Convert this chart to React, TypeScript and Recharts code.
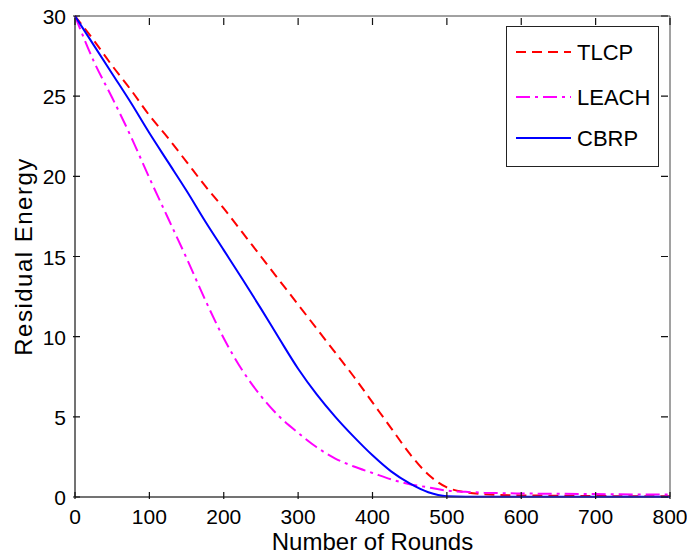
import { LineChart, Line, XAxis, YAxis, Legend, ReferenceArea } from 'recharts'

const rounds = [0, 25, 50, 75, 100, 125, 150, 175, 200, 225, 250, 275, 300, 325, 350, 375, 400, 425, 450, 475, 500, 525, 550, 600, 650, 700, 750, 800]
const tlcp = [30, 28.5, 26.9, 25.4, 23.8, 22.4, 20.9, 19.4, 18.0, 16.5, 15.0, 13.5, 12.0, 10.5, 9.0, 7.5, 5.9, 4.3, 2.7, 1.4, 0.6, 0.3, 0.18, 0.1, 0.08, 0.06, 0.05, 0.05]
const leach = [30, 27.2, 24.9, 22.5, 19.9, 17.4, 14.9, 12.3, 9.9, 7.9, 6.3, 5.0, 4.0, 3.1, 2.4, 1.9, 1.5, 1.1, 0.8, 0.6, 0.4, 0.32, 0.27, 0.22, 0.2, 0.18, 0.16, 0.15]
const cbrp = [30, 28.2, 26.4, 24.6, 22.7, 20.9, 19.1, 17.2, 15.4, 13.6, 11.75, 9.85, 8.0, 6.4, 5.0, 3.75, 2.6, 1.6, 0.85, 0.3, 0.05, 0.02, 0.02, 0.02, 0.02, 0.02, 0.02, 0.02]

const xTicks = [0, 100, 200, 300, 400, 500, 600, 700, 800]
const yTicks = [0, 5, 10, 15, 20, 25, 30]

const series = [
  { key: 'TLCP', color: '#ff0000', dash: '10 6' },
  { key: 'LEACH', color: '#ff00ff', dash: '14 5 3 5' },
  { key: 'CBRP', color: '#0000ff', dash: undefined },
]

const data = rounds.map((r, i) => ({ r, TLCP: tlcp[i], LEACH: leach[i], CBRP: cbrp[i] }))

const font = '"Liberation Sans", Arial, sans-serif'
const axisColor = '#444'
const tickColor = '#111'
const tickLen = 7
const plotH = 481
const plotW = 595

// inward tick marks on both sides of the box (MATLAB style)
const BottomTick = ({ x, y, payload }: any) => (
  <g>
    <path d={`M${x},${y}v${-tickLen}M${x},${y - plotH}v${tickLen}`} stroke={tickColor} strokeWidth={1.2} fill="none" />
    <text x={x} y={y + 25} textAnchor="middle" fontSize={21} fontFamily={font} fill="#000">{payload.value}</text>
  </g>
)

const LeftTick = ({ x, y, payload }: any) => (
  <g>
    <path d={`M${x},${y}h${tickLen}M${x + plotW},${y}h${-tickLen}`} stroke={tickColor} strokeWidth={1.2} fill="none" />
    <text x={x - 7} y={y + 8} textAnchor="end" fontSize={21} fontFamily={font} fill="#000">{payload.value}</text>
  </g>
)

function LegendBox() {
  return (
    <svg width={151} height={139} style={{ display: 'block' }}>
      {series.map((s, i) => {
        const cy = [25, 70, 111][i]
        return (
          <g key={s.key}>
            <line x1={9} y1={cy} x2={64} y2={cy} stroke={s.color} strokeWidth={2} strokeDasharray={s.dash} />
            <text x={70} y={cy + 8} fontSize={22} fontFamily={font} fill="#000">{s.key}</text>
          </g>
        )
      })}
    </svg>
  )
}

export default function App() {
  return (
    <div style={{ position: 'absolute', left: 0, top: 0 }}>
      <LineChart width={687} height={558} data={data} margin={{ top: 16, right: 17, left: 0, bottom: 0 }}>
        <ReferenceArea x1={0} x2={800} y1={0} y2={30} fill="none" stroke={axisColor} strokeWidth={1} />
        <XAxis
          dataKey="r" type="number" domain={[0, 800]} ticks={xTicks}
          height={61} tickSize={0} tickLine={false}
          axisLine={{ stroke: axisColor }} tick={<BottomTick />}
          label={({ viewBox }: any) => (
            <text x={viewBox.x + viewBox.width / 2} y={viewBox.y + 53} textAnchor="middle" fontSize={24} fontFamily={font} fill="#000">
              Number of Rounds
            </text>
          )}
        />
        <YAxis
          type="number" domain={[0, 30]} ticks={yTicks}
          width={75} tickSize={0} tickLine={false}
          axisLine={{ stroke: axisColor }} tick={<LeftTick />}
          label={({ viewBox }: any) => {
            const cx = 32
            const cy = viewBox.y + viewBox.height / 2
            return (
              <text x={cx} y={cy} transform={`rotate(-90, ${cx}, ${cy})`} textAnchor="middle" fontSize={24} letterSpacing={1.5} fontFamily={font} fill="#000">
                Residual Energy
              </text>
            )
          }}
        />
        <Legend
          layout="vertical" align="center" verticalAlign="middle"
          content={() => <LegendBox />}
          wrapperStyle={{ left: 506, top: 26, width: 153, height: 141, border: '1px solid #222', boxSizing: 'border-box' }}
        />
        {series.map(s => (
          <Line
            key={s.key} dataKey={s.key} type="monotone" stroke={s.color} strokeWidth={2}
            strokeDasharray={s.dash} dot={false} isAnimationActive={false}
          />
        ))}
      </LineChart>
    </div>
  )
}
